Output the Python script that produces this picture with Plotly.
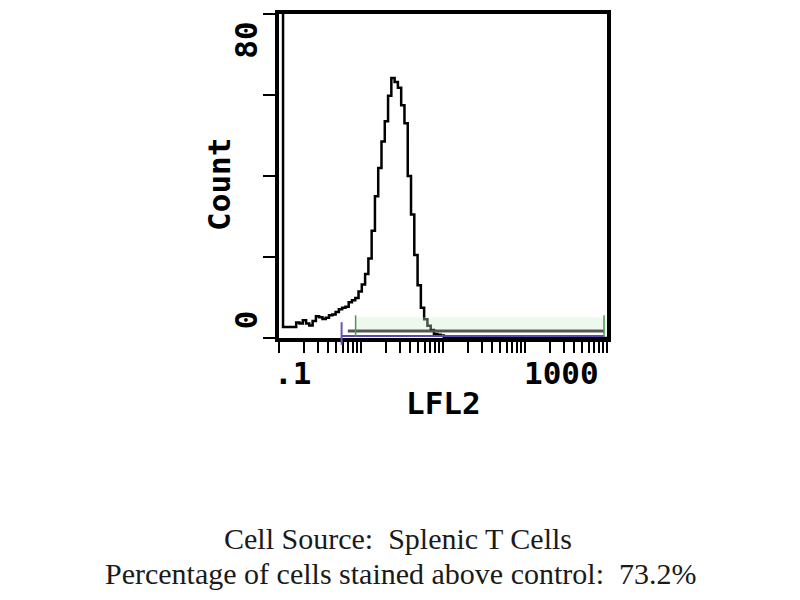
import plotly.graph_objects as go

# ---- data ----
lfl2 = [0.100, 0.112, 0.123, 0.135, 0.148, 0.162, 0.178, 0.195, 0.214, 0.234, 0.257,
        0.282, 0.309, 0.339, 0.372, 0.407, 0.447, 0.490, 0.537, 0.589, 0.646,
        0.708, 0.776, 0.851, 0.933, 1.023, 1.122, 1.230, 1.349, 1.479, 1.622,
        1.778, 1.950, 2.138, 2.344, 2.570, 2.818, 3.090, 3.388, 3.715, 4.074,
        4.467, 4.898, 5.370, 5.888, 6.457, 7.079, 7.762, 8.511, 9.333, 10.23, 1000.0]
count = [100.0, 2.7, 2.7, 2.7, 2.7, 3.8, 3.6, 4.4, 3.6, 3.1, 4.2,
         5.4, 5.1, 4.7, 5.0, 5.6, 5.8, 6.4, 7.1, 7.5, 7.7,
         8.8, 9.3, 9.9, 11.5, 13.2, 15.8, 19.6, 26.5, 35.0, 42.0,
         48.5, 53.5, 59.8, 64.2, 63.2, 61.8, 57.5, 53.0, 40.0, 30.5,
         20.5, 13.0, 7.5, 4.6, 3.0, 2.0, 1.0, 0.8, 0.6, 0.0, 0.0]

gate_green = [0.86, 920.0]     # marker M1
gate_purple = [0.58, 920.0]    # control marker
gate_gray_start = 0.69

x_tick_vals = [m * 10 ** e for e in range(-1, 3) for m in range(1, 10)] + [1000]
y_tick_vals = [0, 20, 40, 60, 80]
y_labels = ["0", "80"]
x_label_lo, x_label_hi = ".1", "1000"
x_title = "LFL2"
y_title = "Count"
caption1 = "Cell Source:  Splenic T Cells"
caption2 = "Percentage of cells stained above control:  73.2%"

# ---- layout geometry (screen pixels; the page body adds an 8px offset) ----
OFF = 8
L, R, T, B = 279, 607, 10, 338
W, H = 800, 600
pw, ph = R - L, B - T


def px(x):
    return (x - L) / pw


def py(y):
    return (B - y) / ph


mono = dict(family="DejaVu Sans Mono", size=31, color="black", weight="bold")

fig = go.Figure()
fig.add_trace(go.Scatter(x=lfl2, y=count, mode="lines", line_shape="hv",
                         line=dict(color="black", width=2.5), hoverinfo="skip"))

shapes = []
# faint green band of the marker
shapes.append(dict(type="rect", xref="x", yref="paper", x0=gate_green[0], x1=gate_green[1],
                   y0=py(329), y1=py(317), line=dict(width=0), fillcolor="rgba(205,238,205,0.35)"))
# gray marker line
shapes.append(dict(type="line", xref="x", yref="paper", x0=gate_gray_start, x1=gate_green[1],
                   y0=py(331), y1=py(331), line=dict(color="#555555", width=3)))
# purple marker
shapes.append(dict(type="line", xref="x", yref="paper", x0=gate_purple[0], x1=gate_purple[1],
                   y0=py(336), y1=py(336), line=dict(color="#5a48b0", width=2)))
shapes.append(dict(type="line", xref="x", yref="paper", x0=gate_purple[0], x1=gate_purple[0],
                   y0=py(322), y1=py(345), line=dict(color="#7050c0", width=2)))
# green marker ticks
for gx in gate_green:
    shapes.append(dict(type="line", xref="x", yref="paper", x0=gx, x1=gx,
                       y0=py(315), y1=py(337), line=dict(color="#4a9a4a", width=1.5)))


def ann(text, x, y, font, angle=0):
    return dict(text=text, x=px(x), y=py(y), xref="paper", yref="paper", showarrow=False,
                font=font, textangle=angle, xanchor="center", yanchor="middle")


annotations = [
    ann(x_label_lo, 292, 373, mono),
    ann(x_label_hi, 561, 373, mono),
    ann(x_title, 443, 404, mono),
    ann(y_title, 219, 183, mono, -90),
    ann(y_labels[1], 246, 37, mono, -90),
    ann(y_labels[0], 246, 320, mono, -90),
]
serif = dict(family="Liberation Serif", size=30, color="#1a1a1a")
annotations.append(ann(caption1, 398, 541, serif))
annotations.append(ann(caption2, 400, 576, serif))

fig.update_layout(
    width=W, height=H,
    margin=dict(l=L - OFF, r=W - (R - OFF), t=T - OFF, b=H - (B - OFF), pad=0),
    paper_bgcolor="white", plot_bgcolor="white",
    showlegend=False,
    shapes=shapes, annotations=annotations,
    xaxis=dict(type="log", range=[-1, 3], tickvals=x_tick_vals, ticktext=[""] * len(x_tick_vals),
               ticks="outside", ticklen=11, tickwidth=2, tickcolor="black",
               showline=True, linewidth=4, linecolor="black", mirror=True,
               showgrid=False, zeroline=False),
    yaxis=dict(range=[0, 80], tickvals=y_tick_vals, ticktext=[""] * len(y_tick_vals),
               ticks="outside", ticklen=12, tickwidth=2, tickcolor="black",
               showline=True, linewidth=4, linecolor="black", mirror=True,
               showgrid=False, zeroline=False),
)

fig.write_html("out.html")
